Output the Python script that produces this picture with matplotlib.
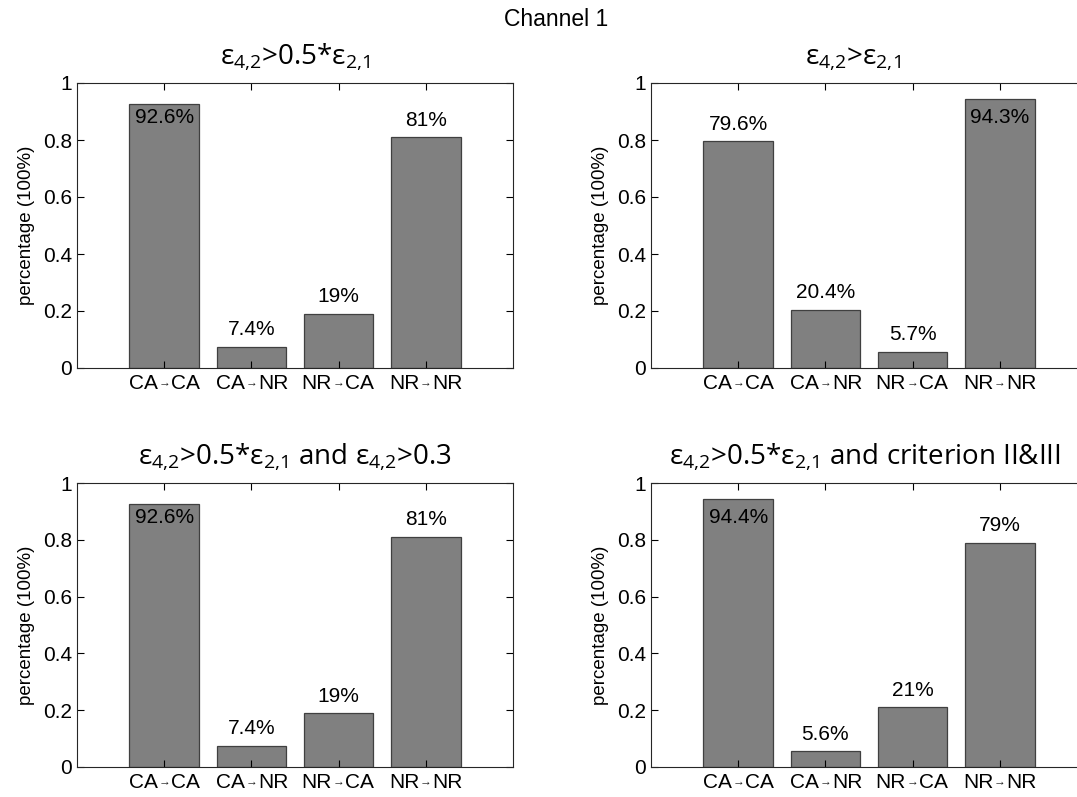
import numpy as np
import matplotlib.pyplot as plt

plt.rcParams['font.family'] = ['Liberation Sans', 'DejaVu Sans']
plt.rcParams['mathtext.default'] = 'regular'

# ----------------------------------------
# data
# ----------------------------------------
categories = [('CA', 'CA'), ('CA', 'NR'), ('NR', 'CA'), ('NR', 'NR')]
vals_a = [0.926, 0.074, 0.19, 0.81]
vals_b = [0.796, 0.204, 0.057, 0.943]
vals_c = [0.926, 0.074, 0.19, 0.81]
vals_d = [0.944, 0.056, 0.21, 0.79]
labels_a = ['92.6%', '7.4%', '19%', '81%']
labels_b = ['79.6%', '20.4%', '5.7%', '94.3%']
labels_c = ['92.6%', '7.4%', '19%', '81%']
labels_d = ['94.4%', '5.6%', '21%', '79%']
titles = [r'$ε_{4{,}2}$>0.5*$ε_{2{,}1}$',
          r'$ε_{4{,}2}$>$ε_{2{,}1}$',
          r'$ε_{4{,}2}$>0.5*$ε_{2{,}1}$ and $ε_{4{,}2}$>0.3',
          r'$ε_{4{,}2}$>0.5*$ε_{2{,}1}$ and criterion II&III']

W, H = 1077, 797
fig = plt.figure(figsize=(W / 100, H / 100), dpi=100)

# axes boxes in pixels: left, top, width, height
boxes = [(77, 83, 436, 285), (651, 83, 436, 285),
         (77, 483, 436, 284), (651, 483, 436, 284)]
title_x = [0.5, 0.463, 0.5, 0.49]
all_vals = [vals_a, vals_b, vals_c, vals_d]
all_labels = [labels_a, labels_b, labels_c, labels_d]

x = np.arange(1, 5)
for i in range(4):
    l, t, w, h = boxes[i]
    ax = fig.add_axes([l / W, 1 - (t + h) / H, w / W, h / H])
    ax.bar(x, all_vals[i], width=0.8, color='#808080', edgecolor='#404040', linewidth=0.9)
    for xi, v, s in zip(x, all_vals[i], all_labels[i]):
        ax.text(xi, min(v + 0.06, 0.88), s, ha='center', va='center', fontsize=15)
    ax.set_xlim(0, 5)
    ax.set_ylim(0, 1)
    ax.set_xticks(x)
    ax.set_xticklabels([])
    # category labels: "from", small arrow, "to"
    for xi, (a, b) in zip(x, categories):
        ax.annotate(a, xy=(xi, 0), xycoords=('data', 'axes fraction'),
                    xytext=(-4.8, -4.5), textcoords='offset points',
                    ha='right', va='top', fontsize=15)
        ax.annotate('→', xy=(xi, 0), xycoords=('data', 'axes fraction'),
                    xytext=(0, -12.5), textcoords='offset points',
                    ha='center', va='baseline', fontsize=8.5, color='#222222')
        ax.annotate(b, xy=(xi, 0), xycoords=('data', 'axes fraction'),
                    xytext=(4.8, -4.5), textcoords='offset points',
                    ha='left', va='top', fontsize=15)
    ax.set_yticks([0, 0.2, 0.4, 0.6, 0.8, 1])
    ax.set_yticklabels(['0', '0.2', '0.4', '0.6', '0.8', '1'])
    ax.tick_params(direction='in', top=True, right=True, length=5, width=0.8,
                   labelsize=15)
    ax.tick_params(axis='y', pad=3.5)
    for sp in ax.spines.values():
        sp.set_linewidth(0.8)
        sp.set_color('#262626')
    ax.set_ylabel('percentage (100%)', fontsize=13.5, labelpad=6)
    ax.set_title(titles[i], family='Open Sans', fontsize=20, x=title_x[i], pad=14)

fig.suptitle('Channel 1', x=556 / W, y=1 - 19 / H, va='center', fontsize=16.5)
plt.savefig('out.png', dpi=100)
